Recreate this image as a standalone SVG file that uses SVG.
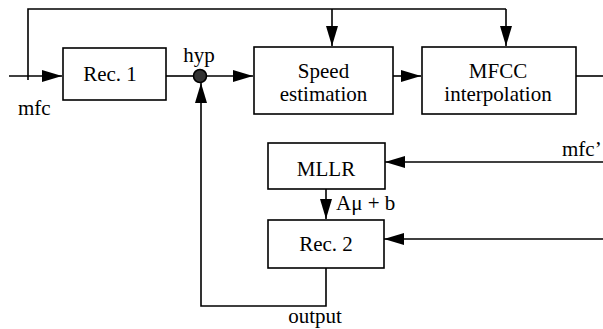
<svg xmlns="http://www.w3.org/2000/svg" width="603" height="329" viewBox="0 0 603 329">
<defs>
<marker id="ah" viewBox="0 0 20 12" refX="20" refY="6" markerWidth="20" markerHeight="12" markerUnits="userSpaceOnUse" orient="auto">
<path d="M0,0 L20,6 L0,12 Z" fill="#000"/>
</marker>
<style>
.box{fill:#fff;stroke:#000;stroke-width:1.6}
.ln{fill:none;stroke:#000;stroke-width:1.6}
.t{font-family:"Liberation Serif","Times New Roman",serif;font-size:21px;fill:#000}
.c{text-anchor:middle}
</style>
</defs>
<g id="connectors">
<path class="ln" d="M9,76 H62" marker-end="url(#ah)"/>
<path class="ln" d="M28,80 V9 H506"/>
<path class="ln" d="M332,9 V46" marker-end="url(#ah)"/>
<path class="ln" d="M506,9 V46" marker-end="url(#ah)"/>
<path class="ln" d="M166,76 H193"/>
<path class="ln" d="M207,76 H253" marker-end="url(#ah)"/>
<path class="ln" d="M393,76 H421" marker-end="url(#ah)"/>
<path class="ln" d="M576,76 H603"/>
<path class="ln" d="M603,162 H385" marker-end="url(#ah)"/>
<path class="ln" d="M603,239 H384" marker-end="url(#ah)"/>
<path class="ln" d="M326,189 V219" marker-end="url(#ah)"/>
<path class="ln" d="M326,268 V306 H201 V83" marker-end="url(#ah)"/>
</g>
<g id="rec1">
<rect class="box" x="63" y="48" width="103" height="52"/>
<text class="t c" x="110" y="81">Rec. 1</text>
</g>
<g id="hyp">
<circle cx="200" cy="76" r="6.5" fill="#333" stroke="#000" stroke-width="1.6"/>
<text class="t c" x="199" y="62">hyp</text>
</g>
<g id="speed">
<rect class="box" x="254" y="47" width="139" height="67"/>
<text class="t c" x="323.5" y="78">Speed</text>
<text class="t c" x="323.5" y="101">estimation</text>
</g>
<g id="mfcc">
<rect class="box" x="422" y="47" width="154" height="67"/>
<text class="t c" x="498" y="78">MFCC</text>
<text class="t c" x="498" y="101">interpolation</text>
</g>
<g id="mllr">
<rect class="box" x="268" y="143" width="117" height="46"/>
<text class="t c" x="326" y="176">MLLR</text>
</g>
<g id="rec2">
<rect class="box" x="268" y="220" width="116" height="48"/>
<text class="t c" x="326" y="251">Rec. 2</text>
</g>
<g id="labels">
<text class="t" x="18" y="115">mfc</text>
<text class="t" x="562" y="156">mfc’</text>
<text class="t" x="336" y="210">Aμ + b</text>
<text class="t c" x="315" y="323">output</text>
</g>
</svg>
